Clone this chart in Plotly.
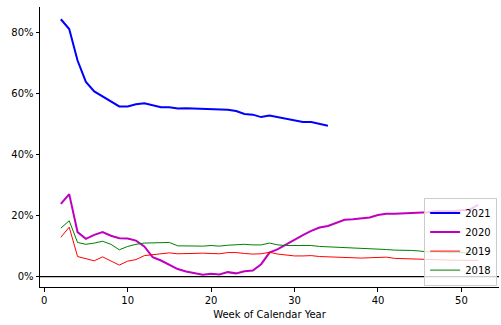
import plotly.graph_objects as go

weeks_2021 = list(range(2, 35))
share_2021 = [84.2, 81.0, 70.7, 63.7, 60.6, 59.0, 57.3, 55.7, 55.7, 56.4, 56.7, 56.0,
              55.4, 55.4, 55.0, 55.1, 55.0, 54.7, 54.7, 54.7, 54.6, 54.2, 53.2, 53.0,
              52.2, 52.7, 52.2, 51.8, 51.1, 50.6, 50.6, 50.0, 49.4]

weeks_2020 = list(range(2, 53))
share_2020 = [23.8, 27.0, 14.6, 12.4, 13.7, 14.6, 13.4, 12.6, 12.5, 11.8, 9.9, 6.4,
              5.3, 3.9, 2.5, 1.7, 1.2, 0.65, 1.0, 0.75, 1.5, 1.1, 1.8, 2.05, 4.1, 7.9,
              9.0, 10.6, 12.1, 13.6, 15.0, 16.1, 16.6, 17.5, 18.6, 18.8, 19.1, 19.4,
              20.2, 20.6, 20.6, 20.7, 20.9, 21.1, 21.1, 21.5, 21.4, 21.4, 21.7, 22.0, 23.5]

weeks_2019 = list(range(2, 53))
share_2019 = [12.9, 16.2, 6.6, 5.9, 5.2, 6.5, 5.2, 3.8, 5.1, 5.6, 6.9, 7.2, 7.7, 7.8,
              7.5, 7.6, 7.7, 7.7, 7.6, 7.5, 7.9, 7.9, 7.6, 7.4, 7.5, 8.0, 7.4, 7.1, 6.8,
              6.8, 6.9, 6.6, 6.5, 6.3, 6.1, 6.1, 6.1, 6.2, 6.3, 6.4, 6.0, 5.9, 5.8, 5.8,
              5.5, 5.6, 5.5, 5.4, 5.4, 5.3, 5.3]

weeks_2018 = list(range(2, 53))
share_2018 = [15.9, 18.3, 11.2, 10.6, 11.0, 11.6, 10.6, 8.8, 9.9, 10.6, 11.0, 11.1,
              11.3, 11.2, 10.1, 10.0, 9.9, 10.0, 10.2, 10.0, 10.3, 10.5, 10.6, 10.4,
              10.4, 11.0, 10.4, 10.2, 10.2, 10.2, 10.2, 9.9, 9.8, 9.6, 9.5, 9.4, 9.2,
              9.1, 9.1, 8.9, 8.7, 8.7, 8.6, 8.4, 8.1, 8.1, 8.0, 7.9, 7.8, 7.8, 7.7]

x_ticks = [0, 10, 20, 30, 40, 50]
y_ticks = [0, 20, 40, 60, 80]
y_tick_labels = ["0%", "20%", "40%", "60%", "80%"]

fig = go.Figure()
fig.add_trace(go.Scatter(x=weeks_2021, y=share_2021, mode="lines", name="2021",
                         line=dict(color="#0000ff", width=2)))
fig.add_trace(go.Scatter(x=weeks_2020, y=share_2020, mode="lines", name="2020",
                         line=dict(color="#bf00bf", width=2)))
fig.add_trace(go.Scatter(x=weeks_2019, y=share_2019, mode="lines", name="2019",
                         line=dict(color="#ff0000", width=1)))
fig.add_trace(go.Scatter(x=weeks_2018, y=share_2018, mode="lines", name="2018",
                         line=dict(color="#008000", width=1)))

fig.add_shape(type="line", xref="paper", yref="y", x0=0, x1=1, y0=0, y1=0,
              line=dict(color="black", width=1.2), layer="below")

fig.update_layout(
    width=501, height=325,
    margin=dict(l=40, r=2, t=7, b=38),
    paper_bgcolor="white", plot_bgcolor="white",
    font=dict(family="DejaVu Sans", size=10, color="black"),
    showlegend=True,
    legend=dict(x=0.996, y=0.005, xanchor="right", yanchor="bottom",
                bgcolor="rgba(255,255,255,0.8)", bordercolor="#cccccc", borderwidth=1,
                font=dict(size=10), itemwidth=30, tracegroupgap=0),
    xaxis=dict(range=[-0.5, 54.5], tickvals=x_ticks, showgrid=False, zeroline=False,
               showline=True, linecolor="black", linewidth=1, ticks="outside",
               ticklen=3.5, tickcolor="black", automargin=False,
               title=dict(text="Week of Calendar Year", font=dict(size=10), standoff=6)),
    yaxis=dict(range=[-3.36, 88.2], tickvals=y_ticks, ticktext=y_tick_labels,
               showgrid=False, zeroline=False, showline=True, linecolor="black",
               linewidth=1, ticks="outside", ticklen=3.5, tickcolor="black",
               automargin=False),
)

fig.write_html("out.html", config={"displayModeBar": False},
               post_script="document.body.style.margin='0';")
